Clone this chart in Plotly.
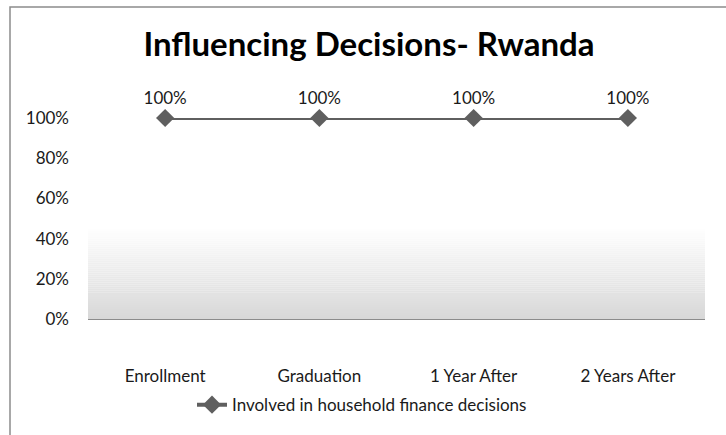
import plotly.graph_objects as go

categories = ["Enrollment", "Graduation", "1 Year After", "2 Years After"]
involved_values = [1.0, 1.0, 1.0, 1.0]
series_name = "Involved in household finance decisions"
y_tick_vals = [0, 0.2, 0.4, 0.6, 0.8, 1.0]
y_tick_text = ["0%", "20%", "40%", "60%", "80%", "100%"]

W, H = 726, 435
ML, MR, MT, MB = 88, 21, 118, 114
FONT = "Lato, 'Open Sans', sans-serif"
line_color = "#5f5f5f"
text_color = "#1a1a1a"
FS = 17

fig = go.Figure()
fig.add_trace(go.Scatter(
    x=categories, y=involved_values, mode="lines+markers+text",
    name=series_name,
    line=dict(color=line_color, width=4),
    marker=dict(symbol="diamond", size=14, color=line_color),
    text=[f"{v:.0%}" for v in involved_values],
    textposition="top center",
    textfont=dict(size=FS, color=text_color, family=FONT),
    cliponaxis=False,
))

# gradient decoration in plot area (white at top, light gray at bottom)
shapes = []
n = 46
g_top = 0.46
for i in range(n):
    y0 = g_top * i / n
    y1 = g_top * (i + 1) / n
    t = i / (n - 1)
    c = int(round(216 + (255 - 216) * t))
    shapes.append(dict(type="rect", xref="paper", yref="y", x0=0, x1=1, y0=y0, y1=y1,
                       fillcolor=f"rgb({c},{c},{c})", line=dict(width=0), layer="below"))
# chart border (extends beyond view on right/bottom)
px0, py0 = 10, 6
pw = W - ML - MR
ph = H - MT - MB
shapes.append(dict(type="rect", xref="paper", yref="paper",
                   x0=(px0 - ML) / pw, x1=(W + 20 - ML) / pw,
                   y0=-(H + 20 - MT - ph) / ph, y1=1 + (MT - py0) / ph,
                   line=dict(color="#8c8c8c", width=1.5), fillcolor="rgba(0,0,0,0)", layer="above"))

fig.update_layout(
    width=W, height=H,
    margin=dict(l=ML, r=MR, t=MT, b=MB),
    paper_bgcolor="white", plot_bgcolor="white",
    shapes=shapes,
    title=dict(text="<b>Influencing Decisions- Rwanda</b>", x=369 / W, xanchor="center",
               y=1 - 44 / H, yanchor="middle",
               font=dict(size=33, color="black", family=FONT)),
    font=dict(family=FONT, size=FS, color=text_color),
    showlegend=True,
    legend=dict(orientation="h", x=(362 - ML) / pw, xanchor="center", y=-(408 - 321) / ph,
                yanchor="middle",
                font=dict(size=FS, family=FONT, color=text_color), bgcolor="rgba(0,0,0,0)"),
    xaxis=dict(type="category", range=[-0.5, 3.5], showgrid=False, showline=True,
               linecolor="#8c8c8c", linewidth=1, ticks="", ticklabelstandoff=42,
               tickfont=dict(size=FS, family=FONT, color=text_color), zeroline=False,
               fixedrange=True),
    yaxis=dict(range=[0, 1.0], tickvals=y_tick_vals, ticktext=y_tick_text, showgrid=False,
               showline=False, zeroline=False, ticks="", ticklabelstandoff=18,
               tickfont=dict(size=FS, family=FONT, color=text_color), fixedrange=True),
)

fig.write_html("out.html", config={"displayModeBar": False},
               post_script="document.body.style.margin='0';document.body.style.overflow='hidden';")
